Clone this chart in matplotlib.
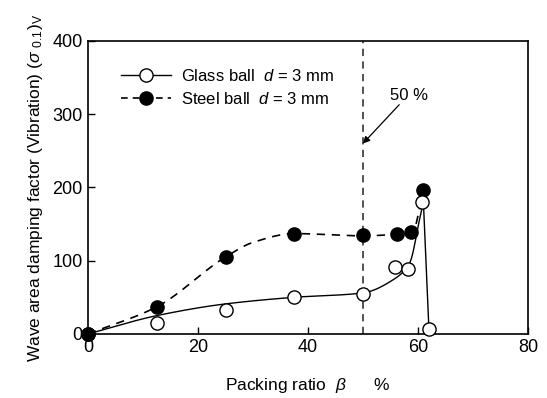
import numpy as np
import matplotlib
matplotlib.use("Agg")
import matplotlib.pyplot as plt
from matplotlib.lines import Line2D

plt.rcParams['font.family'] = ['Liberation Sans', 'DejaVu Sans']
plt.rcParams['mathtext.fontset'] = 'custom'
plt.rcParams['mathtext.it'] = 'Liberation Sans:italic'
plt.rcParams['mathtext.rm'] = 'Liberation Sans'

# measured points
glass_x = [0, 12.5, 25, 37.5, 50, 55.8, 58.2, 60.8, 62]
glass_y = [0, 15, 33, 50, 55, 92, 89, 180, 7]
steel_x = [0, 12.5, 25, 37.5, 50, 56.2, 58.8, 61]
steel_y = [0, 37, 105, 136, 135, 136, 139, 196]

# hand-drawn trend curves (knots)
glass_fit_x = [0, 12.5, 25, 37.5, 50, 55.5, 58.5, 60.4, 61]
glass_fit_y = [0, 25, 41, 50, 56, 74, 97, 160, 180]
glass_drop_x = [61, 62]
glass_drop_y = [180, 7]
steel_fit_x = [0, 12.5, 25, 30, 37.5, 50, 56, 59, 61]
steel_fit_y = [0, 37, 105, 125, 137, 134, 136, 139, 196]

xticks = [0, 20, 40, 60, 80]
yticks = [0, 100, 200, 300, 400]


def pchip(x, y, xs):
    x = np.asarray(x, float); y = np.asarray(y, float)
    h = np.diff(x); d = np.diff(y) / h
    n = len(x); m = np.zeros(n)
    for k in range(1, n - 1):
        if d[k - 1] * d[k] <= 0:
            m[k] = 0
        else:
            w1 = 2 * h[k] + h[k - 1]; w2 = h[k] + 2 * h[k - 1]
            m[k] = (w1 + w2) / (w1 / d[k - 1] + w2 / d[k])
    m[0] = d[0]; m[-1] = d[-1]
    ys = np.empty_like(xs)
    for i, xv in enumerate(xs):
        k = min(max(np.searchsorted(x, xv) - 1, 0), n - 2)
        t = (xv - x[k]) / h[k]
        h00 = 2*t**3 - 3*t**2 + 1; h10 = t**3 - 2*t**2 + t
        h01 = -2*t**3 + 3*t**2; h11 = t**3 - t**2
        ys[i] = h00*y[k] + h10*h[k]*m[k] + h01*y[k+1] + h11*h[k]*m[k+1]
    return ys


fig = plt.figure(figsize=(5.47, 3.98), dpi=100)
ax = fig.add_axes([0.161, 0.161, 0.804, 0.736])

xs = np.linspace(glass_fit_x[0], glass_fit_x[-1], 300)
ax.plot(xs, pchip(glass_fit_x, glass_fit_y, xs), color='black', lw=1.0, zorder=2)
ax.plot(glass_drop_x, glass_drop_y, color='black', lw=1.0, zorder=2)
xs2 = np.linspace(steel_fit_x[0], steel_fit_x[-1], 300)
ax.plot(xs2, pchip(steel_fit_x, steel_fit_y, xs2), color='black', lw=1.2,
        dashes=(5, 4), zorder=2)

ax.plot(steel_x[1:], steel_y[1:], 'o', ms=9.5, mfc='black', mec='black', zorder=3,
        clip_on=False)
ax.plot(glass_x, glass_y, 'o', ms=9.5, mfc='white', mec='black', mew=1.0,
        zorder=4, clip_on=False)
ax.plot(steel_x[:1], steel_y[:1], 'o', ms=9.5, mfc='black', mec='black', zorder=6,
        clip_on=False)

ax.axvline(50, color='#444444', lw=1.3, dashes=(4, 3), zorder=1)
ax.annotate('', xy=(50, 260), xytext=(56.6, 313),
            arrowprops=dict(arrowstyle='-|>', color='black', lw=0.9,
                            mutation_scale=10, shrinkA=0, shrinkB=0))
ax.text(58.3, 325, '50 %', fontsize=12, ha='center', va='center')

ax.set_xlim(0, 80)
ax.set_ylim(0, 400)
ax.set_xticks(xticks)
ax.set_yticks(yticks)
ax.tick_params(direction='in', length=5, width=1, labelsize=13, pad=4)
for s in ax.spines.values():
    s.set_linewidth(1.2)

ax.set_xlabel(r'Packing ratio  $\beta$      %', fontsize=12.5, labelpad=14)
ax.set_ylabel(r'Wave area damping factor (Vibration) ($\sigma$ $_{0.1}$)$_{\rm V}$',
              fontsize=12.5, labelpad=5)

h1 = Line2D([], [], color='black', lw=1.0, marker='o', ms=9.5, mfc='white', mec='black')
h2 = Line2D([], [], color='black', lw=1.2, dashes=(4, 3), marker='o', ms=9.5,
            mfc='black', mec='black')
ax.legend([h1, h2], [r'Glass ball  $d$ = 3 mm', r'Steel ball  $d$ = 3 mm'],
          loc='upper left', bbox_to_anchor=(0.04, 0.96), frameon=False,
          fontsize=12, handlelength=3.0, handletextpad=0.6, labelspacing=0.45)

fig.savefig('out.png', dpi=100)
